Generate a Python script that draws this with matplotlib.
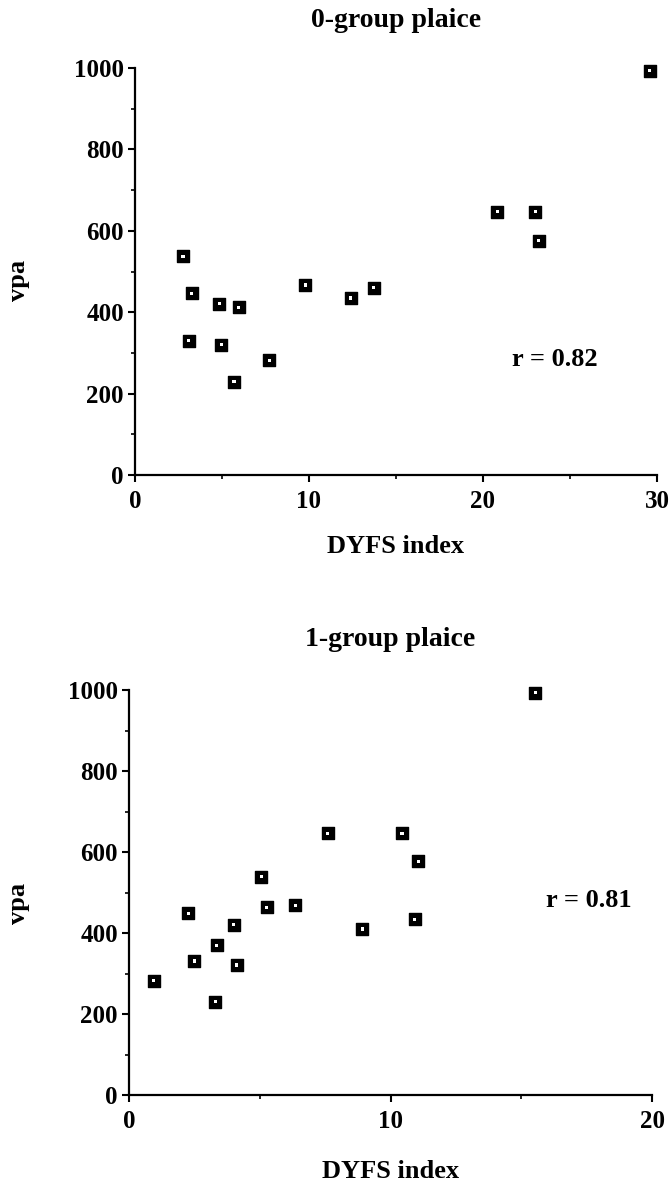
import matplotlib
matplotlib.use("Agg")
import matplotlib.pyplot as plt
from matplotlib.ticker import MultipleLocator

plt.rcParams['font.family'] = ['Liberation Serif', 'DejaVu Serif']
plt.rcParams['font.weight'] = 'bold'

# 0-group plaice
dyfs0 = [2.76, 3.25, 3.08, 4.85, 4.95, 5.96, 5.69, 7.73, 9.78, 12.41, 13.72, 20.81, 23.0, 23.2, 29.58]
vpa0 = [538, 447, 330, 421, 320, 412, 229, 282, 467, 435, 460, 647, 647, 576, 993]
# 1-group plaice
dyfs1 = [0.95, 2.26, 2.50, 3.29, 3.36, 4.01, 4.11, 5.06, 5.27, 6.35, 7.59, 8.92, 10.44, 10.93, 11.06, 15.53]
vpa1 = [282, 449, 331, 230, 370, 421, 321, 539, 464, 468, 646, 410, 646, 434, 577, 993]

titles = ["0-group plaice", "1-group plaice"]
r_labels = ["r = 0.82", "r = 0.81"]
xlabel = "DYFS index"
ylabel = "vpa"

fig = plt.figure(figsize=(6.71, 11.82), dpi=100)
ax0 = fig.add_axes([0.2012, 0.5981, 0.7779, 0.3443])
ax1 = fig.add_axes([0.1923, 0.0736, 0.7794, 0.3426])

configs = [
    (ax0, dyfs0, vpa0, 30, 10, 5, (24.1, 285), 1.118, -0.147, (-0.201, 0.479)),
    (ax1, dyfs1, vpa1, 20, 10, 5, (17.6, 481), 1.126, -0.16, (-0.189, 0.474)),
]

for i, (ax, x, y, xmax, xmaj, xmin, rpos, ty, xly, yl) in enumerate(configs):
    ax.scatter(x, y, marker='s', s=72, facecolor='black', edgecolor='black', zorder=3, clip_on=False)
    ax.scatter(x, y, marker='s', s=5, facecolor='white', edgecolor='none', zorder=4, clip_on=False)
    ax.set_xlim(0, xmax)
    ax.set_ylim(0, 1000)
    ax.spines['top'].set_visible(False)
    ax.spines['right'].set_visible(False)
    ax.spines['left'].set_linewidth(1.6)
    ax.spines['bottom'].set_linewidth(1.6)
    ax.xaxis.set_major_locator(MultipleLocator(xmaj))
    ax.xaxis.set_minor_locator(MultipleLocator(xmin))
    ax.yaxis.set_major_locator(MultipleLocator(200))
    ax.yaxis.set_minor_locator(MultipleLocator(100))
    ax.tick_params(axis='both', which='major', length=5, width=1.5, labelsize=18)
    ax.tick_params(axis='x', which='major', pad=6)
    ax.tick_params(axis='y', which='major', pad=3)
    ax.tick_params(axis='both', which='minor', length=3, width=1.2)
    for lab in ax.get_xticklabels() + ax.get_yticklabels():
        lab.set_fontweight('bold')
    ax.set_title(titles[i], fontsize=20, fontweight='bold', y=ty, va='center', pad=0)
    ax.set_xlabel(xlabel, fontsize=19, fontweight='bold')
    ax.xaxis.set_label_coords(0.5, xly)
    ax.set_ylabel(ylabel, fontsize=19, fontweight='bold')
    ax.yaxis.set_label_coords(yl[0], yl[1])
    ax.text(rpos[0], rpos[1], r_labels[i], fontsize=19, fontweight='bold', ha='center', va='center')

fig.savefig("out.png", dpi=100)
